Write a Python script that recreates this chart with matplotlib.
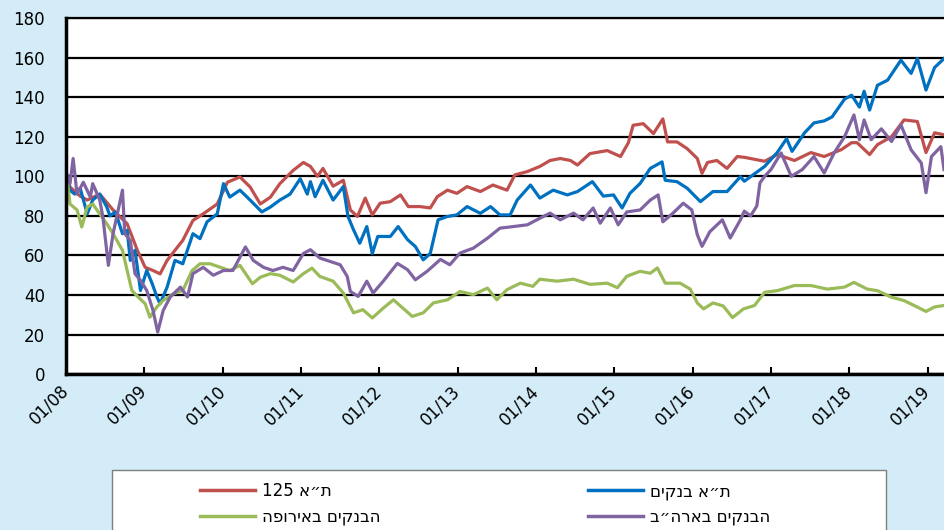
import matplotlib.pyplot as plt
from matplotlib.lines import Line2D
from matplotlib.patches import Rectangle

plt.rcParams['font.family'] = ['DejaVu Sans']

# years since 01/2008
t_red = [0.01, 0.05, 0.18, 0.27, 0.43, 0.60, 0.78, 0.91, 1.01, 1.11, 1.20, 1.29, 1.39, 1.49, 1.62, 1.75, 1.93,
         2.06, 2.22, 2.35, 2.48, 2.61, 2.73, 2.90, 3.03, 3.12, 3.21, 3.28, 3.41, 3.54, 3.63, 3.72, 3.82, 3.91,
         4.01, 4.14, 4.27, 4.37, 4.52, 4.65, 4.74, 4.87, 4.99, 5.12, 5.29, 5.45, 5.63, 5.73, 5.89, 6.05, 6.18,
         6.31, 6.44, 6.53, 6.69, 6.91, 7.08, 7.18, 7.24, 7.37, 7.50, 7.62, 7.68, 7.80, 7.93, 8.06, 8.12, 8.19,
         8.31, 8.44, 8.57, 8.66, 8.92, 9.08, 9.30, 9.51, 9.68, 9.90, 10.03, 10.10, 10.26, 10.36, 10.54, 10.70,
         10.87, 10.98, 11.09, 11.21]
ta125 = [100, 94.6, 90, 88, 91, 83, 76, 62.6, 54, 52.4, 50.7, 57.5, 62.6, 67.6, 77.7, 81, 86,
         97, 99.7, 94.6, 86, 89.5, 96.3, 103, 107, 105, 100, 104, 95, 98, 83, 79.7, 89, 80.5,
         86.4, 87.2, 90.6, 84.7, 84.7, 84, 89.7, 93, 91.4, 94.8, 92.3, 95.6, 93, 100.7, 102.4, 105, 108,
         109, 108, 105.7, 111.5, 113, 110, 117, 125.8, 126.6, 121.6, 129, 117.4, 117.4, 114, 109, 101.5, 107,
         108, 104, 110, 109.6, 107.6, 111, 108, 112, 110, 113.5, 117, 117, 111, 116, 120, 128.5,
         127.7, 112, 122, 121]

t_blue = [0.01, 0.05, 0.11, 0.18, 0.27, 0.34, 0.43, 0.52, 0.56, 0.63, 0.72, 0.78, 0.82, 0.88, 0.95, 1.03, 1.10,
          1.16, 1.20, 1.29, 1.39, 1.49, 1.62, 1.71, 1.80, 1.93, 2.01, 2.09, 2.22, 2.35, 2.50, 2.61, 2.73, 2.86,
          2.99, 3.08, 3.12, 3.18, 3.28, 3.41, 3.54, 3.60, 3.67, 3.75, 3.84, 3.91, 3.98, 4.14, 4.24, 4.36, 4.46,
          4.56, 4.65, 4.75, 4.87, 4.99, 5.12, 5.29, 5.42, 5.54, 5.67, 5.76, 5.93, 6.05, 6.22, 6.40, 6.53, 6.72,
          6.86, 6.99, 7.10, 7.20, 7.33, 7.46, 7.61, 7.65, 7.80, 7.93, 8.10, 8.26, 8.44, 8.61, 8.66, 8.92, 9.08,
          9.20, 9.27, 9.43, 9.55, 9.68, 9.78, 9.94, 10.03, 10.13, 10.19, 10.26, 10.36, 10.49, 10.66, 10.79,
          10.87, 10.98, 11.09, 11.21]
ta_banks = [100.5, 93, 91, 94, 81, 88, 91, 84.5, 80, 82, 71, 72.7, 57.5, 62.6, 42.3, 52.4, 45.7,
            39, 35.6, 44, 57.5, 55.8, 71, 68.5, 77, 81, 96.3, 89.5, 93, 88, 82, 84.5, 88, 91,
            98.8, 91, 97.3, 89.7, 98, 88, 94.8, 79.7, 73, 66.2, 74.6, 61, 69.6, 69.6, 74.6, 68, 64.5,
            57.8, 61, 78, 79.7, 80.5, 84.7, 81.3, 84.7, 80.5, 80.5, 88, 95.6, 89, 93, 90.6, 92.3, 97.3,
            90, 90.6, 84, 91.4, 96.4, 104, 107.3, 98, 97.3, 94, 87.2, 92.3, 92.3, 99.8, 97.5, 105, 112,
            119, 112.6, 122, 127, 128, 130, 139, 141, 135, 143, 133.5, 146, 148.6, 158.7, 152,
            159.5, 143.6, 155, 159.5]

t_green = [0.01, 0.05, 0.14, 0.20, 0.27, 0.34, 0.43, 0.52, 0.60, 0.72, 0.78, 0.84, 0.92, 1.01, 1.07, 1.16, 1.24,
           1.37, 1.49, 1.61, 1.71, 1.84, 1.97, 2.09, 2.22, 2.38, 2.48, 2.61, 2.73, 2.90, 3.03, 3.14, 3.24, 3.41,
           3.54, 3.67, 3.79, 3.91, 4.05, 4.18, 4.30, 4.42, 4.56, 4.69, 4.87, 5.03, 5.20, 5.38, 5.50, 5.63, 5.80,
           5.96, 6.05, 6.27, 6.48, 6.69, 6.91, 7.04, 7.16, 7.33, 7.46, 7.55, 7.65, 7.84, 7.97, 8.06, 8.14, 8.26,
           8.39, 8.51, 8.65, 8.79, 8.92, 9.08, 9.30, 9.51, 9.72, 9.94, 10.06, 10.23, 10.36, 10.54, 10.70, 10.87,
           10.98, 11.09, 11.21]
eu_banks = [99.7, 86, 83, 74.4, 84.5, 86, 81, 76, 71, 62.6, 52.4, 42.3, 39, 35.6, 28.8, 34, 37.3,
            40.6, 42.3, 52.4, 55.8, 55.8, 54, 52.4, 55, 45.7, 49, 50.8, 50, 46.6, 50.8, 53.6, 49.4, 47,
            41, 31, 32.6, 28.4, 33.4, 37.6, 33.4, 29.2, 31, 36, 37.6, 41.8, 40.2, 43.5, 37.6, 42.7, 46,
            44.4, 48, 47, 48, 45.4, 46, 43.7, 49.5, 52, 51, 53.7, 46, 46, 43, 36, 33, 36,
            34.5, 28.6, 33, 34.7, 41.4, 42.2, 44.8, 44.8, 43, 44, 46.4, 43, 42.2, 38.9, 37.2, 33.9,
            31.7, 34, 34.7]

t_purple = [0.01, 0.05, 0.09, 0.14, 0.22, 0.31, 0.34, 0.43, 0.47, 0.54, 0.60, 0.72, 0.75, 0.82, 0.88, 0.95, 1.03,
            1.11, 1.17, 1.24, 1.33, 1.46, 1.55, 1.62, 1.75, 1.88, 2.01, 2.13, 2.29, 2.39, 2.52, 2.64, 2.77, 2.90,
            3.03, 3.12, 3.24, 3.37, 3.50, 3.59, 3.63, 3.73, 3.84, 3.92, 4.05, 4.23, 4.36, 4.46, 4.61, 4.78, 4.90,
            5.03, 5.20, 5.38, 5.54, 5.71, 5.89, 6.05, 6.18, 6.31, 6.48, 6.60, 6.73, 6.82, 6.95, 7.05, 7.16, 7.33,
            7.46, 7.56, 7.62, 7.75, 7.88, 7.99, 8.06, 8.12, 8.22, 8.38, 8.48, 8.61, 8.66, 8.74, 8.82, 8.86, 8.92,
            9.00, 9.13, 9.26, 9.40, 9.55, 9.68, 9.81, 9.94, 10.06, 10.13, 10.19, 10.28, 10.41, 10.54, 10.66,
            10.79, 10.92, 10.98, 11.05, 11.17, 11.21]
us_banks = [101, 96.3, 109, 91, 97, 89.5, 96.3, 88, 79.4, 55, 71, 93, 71, 67.6, 50.8, 47.4, 42.3,
            32.2, 21.3, 32.2, 39, 44, 39, 50.8, 54, 50, 52.4, 52.4, 64.3, 57.5, 54, 52.4, 54, 52.4,
            61, 62.9, 58.7, 57, 55.3, 49.4, 41.8, 39.3, 47, 41, 47, 56, 52.8, 47.7, 52, 58, 55.3,
            61.2, 63.7, 68.7, 73.8, 74.6, 75.5, 78.8, 81.4, 78, 81.4, 78, 84, 76.3, 84, 75.5, 82, 83,
            88, 90.6, 77, 81.4, 86.4, 83, 70.5, 64.6, 72, 78, 68.8, 78, 82.4, 80, 85, 96.7, 100,
            103.4, 111.8, 100, 103.4, 110, 101.7, 112, 120, 131, 118.5, 128.5, 118.5, 124, 117.6, 126,
            113.4, 106.7, 91.7, 110, 115, 103.4]

names = ['ת״א 125', 'ת״א בנקים', 'הבנקים באירופה', 'הבנקים בארה״ב']
colors = ['#C0504D', '#0070C0', '#9BBB59', '#8064A2']
tick_labels = ['01/08', '01/09', '01/10', '01/11', '01/12', '01/13', '01/14', '01/15',
               '01/16', '01/17', '01/18', '01/19']


def heb(s):
    # no bidi in matplotlib: put the Hebrew in visual order
    words = s.split(' ')[::-1]
    return ' '.join(w if w.isdigit() else w[::-1] for w in words)


fig = plt.figure(figsize=(9.44, 5.3), dpi=100, facecolor='#D3ECF8')
ax = fig.add_axes([0.07, 0.294, 0.93, 0.672])
ax.set_facecolor('white')

ax.plot(t_red, ta125, color=colors[0], lw=2.3)
ax.plot(t_blue, ta_banks, color=colors[1], lw=2.3)
ax.plot(t_green, eu_banks, color=colors[2], lw=2.3)
ax.plot(t_purple, us_banks, color=colors[3], lw=2.3)

ax.set_xlim(0, 11.21)
ax.set_ylim(0, 180)
ax.set_yticks(range(0, 181, 20))
ax.set_xticks(range(len(tick_labels)))
ax.set_xticklabels(tick_labels)
ax.grid(axis='y', color='black', lw=1.6)
ax.set_axisbelow(True)

for s in ['left', 'bottom']:
    ax.spines[s].set_linewidth(2.5)
ax.spines['top'].set_linewidth(1.6)
ax.spines['right'].set_visible(False)

ax.tick_params(axis='y', length=0, pad=15, labelsize=12)
ax.tick_params(axis='x', direction='in', length=5, width=1.5, pad=10, labelsize=12)
plt.setp(ax.get_xticklabels(), rotation=45, ha='right', va='center', rotation_mode='anchor')

# legend box runs off the bottom of the picture
fig.patches.append(Rectangle((112 / 944, -0.1), 774 / 944, 0.2132, transform=fig.transFigure,
                             facecolor='white', edgecolor='#7F7F7F', lw=1))

hs = [Line2D([], [], color=c, lw=2.5) for c in colors]
for col, x0 in [(0, 200 / 944), (1, 588 / 944)]:
    idx = [col, col + 2]
    fig.legend([hs[i] for i in idx], [heb(names[i]) for i in idx], loc='center left',
               bbox_to_anchor=(x0, 0.049), frameon=False, fontsize=12, handlelength=3.3,
               handletextpad=0.4, labelspacing=0.45, borderpad=0, borderaxespad=0)

fig.savefig('out.png', dpi=100, facecolor=fig.get_facecolor())
